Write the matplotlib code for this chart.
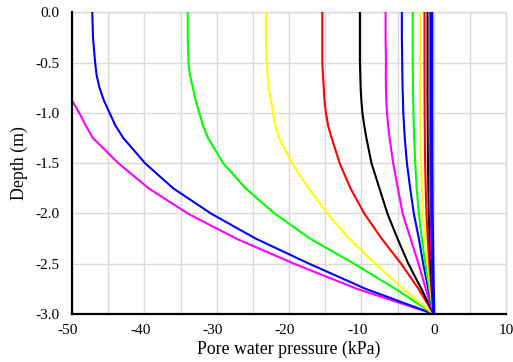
import matplotlib
matplotlib.use("Agg")
import matplotlib.pyplot as plt
import matplotlib.transforms as mtransforms
import numpy as np

plt.rcParams['font.family'] = ['Liberation Serif', 'DejaVu Serif']
plt.rcParams['axes.unicode_minus'] = False

# depth of the readings (m)
depth = [0.0, -0.25, -0.5, -0.625, -0.75, -0.875, -1.0, -1.125, -1.25,
         -1.5, -1.75, -2.0, -2.25, -2.5, -2.75, -3.0]

# pore water pressure profiles (kPa), one per time step
u01 = [np.nan, np.nan, np.nan, -52.0, -51.2, -50.0, -49.0, -48.1, -47.1,
       -43.6, -39.4, -34.0, -27.3, -19.3, -10.6, 0.0]
u02 = [-47.2, -47.1, -46.8, -46.6, -46.2, -45.6, -44.8, -44.0, -42.9,
       -39.9, -36.0, -30.8, -24.6, -17.2, -9.4, 0.0]
u03 = [-34.0, -34.0, -33.9, -33.7, -33.3, -32.9, -32.4, -31.9, -31.2,
       -29.1, -26.0, -22.0, -17.1, -11.0, -5.3, 0.0]
u04 = [-23.2, -23.2, -23.1, -23.0, -22.8, -22.5, -22.2, -21.9, -21.4,
       -19.6, -17.3, -14.7, -11.7, -8.1, -4.2, 0.0]
u05 = [-15.4, -15.4, -15.4, -15.3, -15.2, -15.1, -14.9, -14.6, -14.1,
       -13.0, -11.5, -9.6, -7.2, -4.5, -2.1, 0.0]
u06 = [-10.2, -10.2, -10.2, -10.15, -10.1, -10.0, -9.85, -9.6, -9.3,
       -8.6, -7.5, -6.4, -5.0, -3.5, -1.7, 0.0]
u07 = [-6.65, -6.65, -6.6, -6.62, -6.6, -6.55, -6.45, -6.3, -6.1,
       -5.6, -4.95, -4.3, -3.2, -2.1, -1.1, 0.0]
u08 = [-4.4, -4.4, -4.35, -4.33, -4.3, -4.25, -4.2, -4.1, -4.0,
       -3.7, -3.25, -2.75, -2.05, -1.45, -0.75, 0.0]
u09 = [-2.9, -2.9, -2.9, -2.88, -2.86, -2.83, -2.8, -2.75, -2.7,
       -2.55, -2.35, -2.05, -1.65, -1.15, -0.6, 0.0]
u10 = [-1.9, -1.9, -1.9, -1.9, -1.9, -1.89, -1.88, -1.86, -1.83,
       -1.75, -1.63, -1.47, -1.2, -0.85, -0.45, 0.0]
u11 = [-1.27, -1.27, -1.27, -1.27, -1.26, -1.26, -1.25, -1.24, -1.22,
       -1.18, -1.1, -1.0, -0.82, -0.6, -0.32, 0.0]
u12 = [-0.85, -0.85, -0.85, -0.85, -0.85, -0.85, -0.84, -0.83, -0.82,
       -0.79, -0.74, -0.67, -0.56, -0.41, -0.22, 0.0]
u13 = [-0.55, -0.55, -0.55, -0.55, -0.55, -0.55, -0.54, -0.54, -0.53,
       -0.51, -0.48, -0.43, -0.36, -0.27, -0.14, 0.0]
u14 = [-0.28, -0.28, -0.28, -0.28, -0.28, -0.28, -0.28, -0.27, -0.27,
       -0.26, -0.24, -0.22, -0.18, -0.13, -0.07, 0.0]

profiles = [u01, u02, u03, u04, u05, u06, u07, u08, u09, u10, u11, u12, u13, u14]
colours = ['#ff00ff', '#0000ff', '#00ff00', '#ffff00', '#ff0000', '#000000']

x_ticks = [-50, -40, -30, -20, -10, 0, 10]
y_ticks = [-3.0, -2.5, -2.0, -1.5, -1.0, -0.5, 0.0]

fig = plt.figure(figsize=(5.13, 3.62), dpi=100)
ax = fig.add_axes([0.1404, 0.1326, 0.8460, 0.8329])

for i, u in enumerate(profiles):
    lw = 2.4 if i == len(profiles) - 1 else 1.5
    ax.plot(u, depth, '-', color=colours[i % len(colours)], linewidth=lw, zorder=3)

ax.set_xlim(-50, 10)
ax.set_ylim(-3, 0)
ax.set_xticks(x_ticks)
ax.set_xticks(np.arange(-45, 10, 10), minor=True)
ax.set_yticks(y_ticks)
ax.set_xticklabels([str(v) for v in x_ticks])
ax.set_yticklabels(['%.1f' % v for v in y_ticks])

ax.set_axisbelow(True)
ax.grid(True, which='both', color='#dadada', linewidth=1.0)
ax.tick_params(axis='both', which='both', length=0, labelsize=11)
ax.tick_params(axis='y', pad=9)
ax.tick_params(axis='x', pad=7)

# negative x labels sit with their digits centred on the tick
shift = mtransforms.ScaledTranslation(-4 / 100, 0, fig.dpi_scale_trans)
for lab, v in zip(ax.get_xticklabels(), x_ticks):
    if v < 0:
        lab.set_transform(lab.get_transform() + shift)

for side in ['top', 'right']:
    ax.spines[side].set_color('#dadada')
    ax.spines[side].set_linewidth(1.0)
for side in ['left', 'bottom']:
    ax.spines[side].set_color('black')
    ax.spines[side].set_linewidth(1.6)
    ax.spines[side].set_zorder(4)

ax.set_xlabel('Pore water pressure (kPa)', fontsize=12.8, labelpad=3)
ax.set_ylabel('Depth (m)', fontsize=12.8, labelpad=5)

fig.savefig('out.png', dpi=100)
